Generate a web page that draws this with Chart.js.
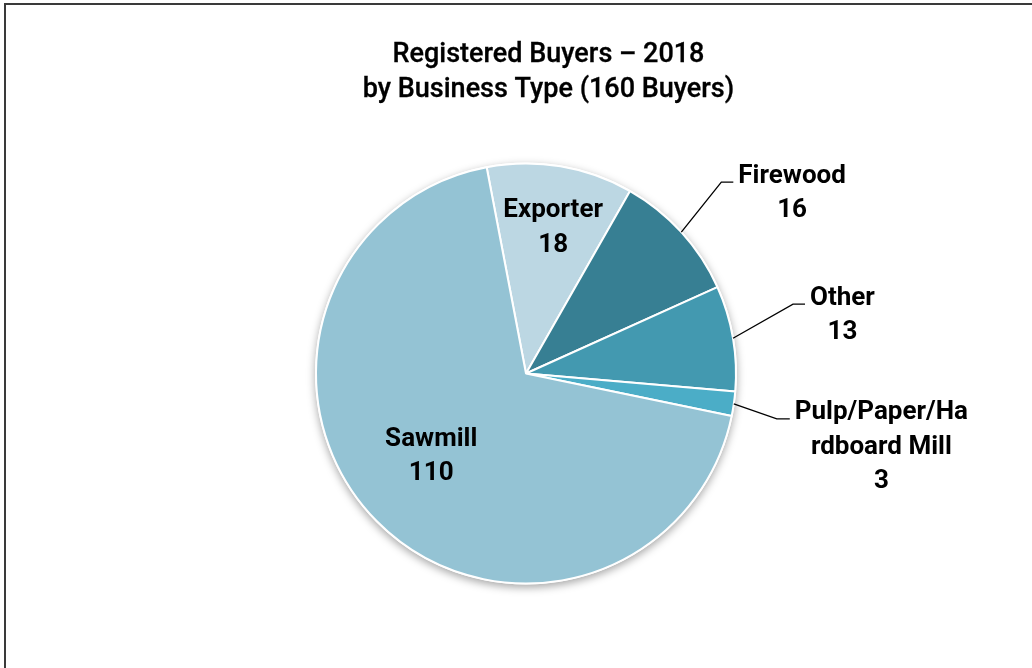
<!DOCTYPE html>
<html>
<head>
<meta charset="utf-8">
<script src="https://cdn.jsdelivr.net/npm/chart.js@4.4.1/dist/chart.umd.min.js"></script>
<style>
html, body { margin: 0; padding: 0; background: #fff; }
#wrap { position: relative; width: 1032px; height: 668px; }
</style>
</head>
<body>
<div id="wrap"><canvas id="myChart" width="1032" height="668"></canvas></div>
<script>
var categories = ['Exporter', 'Firewood', 'Other', 'Pulp/Paper/Hardboard Mill', 'Sawmill'];
var buyers = [18, 16, 13, 3, 110];
var titleLines = ['Registered Buyers \u2013 2018', 'by Business Type (160 Buyers)'];

var sliceColors = ['#bcd7e3', '#377f93', '#4399b0', '#4badc7', '#94c3d4'];

// where each data label goes: inside the slice, or outside with a leader line
var labelLayout = [
    { inside: true, frac: 0.7, dx: 3, dy: -3 },
    { elbow: [40, -50], tail: 12 },
    { elbow: [60, -34], tail: 12 },
    { elbow: [43, 15], tail: 13, wrapAt: 13 },
    { inside: true, frac: 0.6, dx: -5, dy: -8 }
];

var labelFont = '700 26px Roboto';
var lineGap = 34.5;
var capH = 18.5;

var framePlugin = {
    id: 'frame',
    beforeDraw: function (chart) {
        var c = chart.ctx;
        c.save();
        c.fillStyle = '#fff';
        c.fillRect(0, 0, chart.width, chart.height);
        c.strokeStyle = '#3a3a3a';
        c.lineWidth = 2;
        c.beginPath();
        c.moveTo(4, 4);
        c.lineTo(chart.width, 4);
        c.moveTo(5, 3);
        c.lineTo(5, chart.height);
        c.stroke();
        // title, a touch heavier than regular
        c.fillStyle = '#000';
        c.strokeStyle = '#000';
        c.lineWidth = 0.3;
        c.font = '500 27px Roboto';
        c.textAlign = 'center';
        c.textBaseline = 'alphabetic';
        c.fillText(titleLines[0], 548.5, 62);
        c.strokeText(titleLines[0], 548.5, 62);
        c.fillText(titleLines[1], 548.5, 97);
        c.strokeText(titleLines[1], 548.5, 97);
        c.restore();
    }
};

var shadowPlugin = {
    id: 'pieShadow',
    beforeDatasetsDraw: function (chart) {
        var arc = chart.getDatasetMeta(0).data[0];
        if (!arc) return;
        var c = chart.ctx;
        c.save();
        c.shadowColor = 'rgba(0,0,0,0.35)';
        c.shadowBlur = 8;
        c.shadowOffsetY = 3;
        c.fillStyle = '#fff';
        c.beginPath();
        c.arc(arc.x, arc.y, arc.outerRadius + 1, 0, Math.PI * 2);
        c.fill();
        c.restore();
    }
};

function labelLines(i) {
    var name = categories[i];
    var lay = labelLayout[i];
    var lines = [];
    if (lay.wrapAt) {
        for (var k = 0; k < name.length; k += lay.wrapAt) lines.push(name.slice(k, k + lay.wrapAt));
    } else {
        lines.push(name);
    }
    lines.push(String(buyers[i]));
    return lines;
}

var labelPlugin = {
    id: 'sliceLabels',
    afterDatasetsDraw: function (chart) {
        var c = chart.ctx;
        var arcs = chart.getDatasetMeta(0).data;
        c.save();
        c.font = labelFont;
        c.fillStyle = '#000';
        c.strokeStyle = '#000';
        c.lineWidth = 1.3;
        c.textBaseline = 'alphabetic';
        c.textAlign = 'center';
        arcs.forEach(function (arc, i) {
            var lay = labelLayout[i];
            var mid = (arc.startAngle + arc.endAngle) / 2;
            var lines = labelLines(i);
            if (lay.inside) {
                var d = arc.outerRadius * lay.frac;
                var cx = arc.x + Math.cos(mid) * d + lay.dx;
                var cy = arc.y + Math.sin(mid) * d + lay.dy;
                var first = cy - (capH + (lines.length - 1) * lineGap) / 2 + capH;
                lines.forEach(function (t, j) {
                    c.fillText(t, cx, first + j * lineGap);
                });
            } else {
                var px = arc.x + Math.cos(mid) * arc.outerRadius;
                var py = arc.y + Math.sin(mid) * arc.outerRadius;
                var ex = px + lay.elbow[0], ey = py + lay.elbow[1];
                var tx = ex + lay.tail;
                c.beginPath();
                c.moveTo(px, py);
                c.lineTo(ex, ey);
                c.lineTo(tx, ey);
                c.stroke();
                var w = 0;
                lines.forEach(function (t) { w = Math.max(w, c.measureText(t).width); });
                var bx = tx + 5 + w / 2;
                lines.forEach(function (t, j) {
                    c.fillText(t, bx, ey + 0.5 + j * lineGap);
                });
            }
        });
        c.restore();
    }
};

var ctx = document.getElementById('myChart').getContext('2d');
var chart = new Chart(ctx, {
    type: 'pie',
    data: {
        labels: categories,
        datasets: [{
            data: buyers,
            backgroundColor: sliceColors,
            borderColor: '#fff',
            borderWidth: 2,
            hoverOffset: 0,
            radius: 210
        }]
    },
    options: {
        responsive: false,
        animation: false,
        events: [],
        rotation: -10.8,
        layout: { padding: { left: 20, right: 0, top: 89, bottom: 10 } },
        plugins: {
            legend: { display: false },
            title: { display: false },
            tooltip: { enabled: false }
        }
    },
    plugins: [framePlugin, shadowPlugin, labelPlugin]
});
</script>
</body>
</html>
